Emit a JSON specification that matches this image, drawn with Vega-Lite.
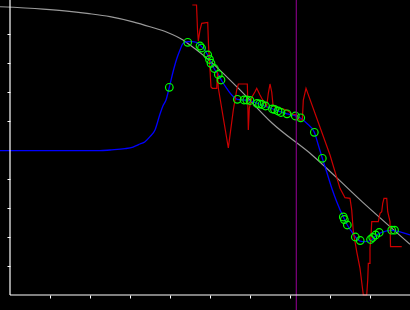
{
  "$schema": "https://vega.github.io/schema/vega-lite/v6.json",
  "width": 410,
  "height": 310,
  "padding": 0,
  "autosize": {"type": "none"},
  "background": "black",
  "config": {"view": {"stroke": null}},
  "datasets": {
    "grey": [
      {"u": -0.25, "v": 9.94}, {"u": 0.825, "v": 9.86}, {"u": 1.425, "v": 9.79}, {"u": 1.925, "v": 9.71},
      {"u": 2.5, "v": 9.6}, {"u": 3.075, "v": 9.42}, {"u": 3.5, "v": 9.25}, {"u": 3.925, "v": 9.06},
      {"u": 4.325, "v": 8.79}, {"u": 4.5, "v": 8.62}, {"u": 4.875, "v": 8.22}, {"u": 5.7, "v": 7.14},
      {"u": 6.55, "v": 5.93}, {"u": 7.55, "v": 4.83}, {"u": 8.8, "v": 3.22}, {"u": 10, "v": 1.75}
    ],
    "blue": [
      {"u": -0.25, "v": 4.976}, {"u": 2.25, "v": 4.976}, {"u": 2.5, "v": 5.0}, {"u": 2.875, "v": 5.045},
      {"u": 3.075, "v": 5.103}, {"u": 3.25, "v": 5.207}, {"u": 3.375, "v": 5.286}, {"u": 3.5, "v": 5.459},
      {"u": 3.625, "v": 5.69}, {"u": 3.75, "v": 6.241}, {"u": 3.825, "v": 6.528}, {"u": 3.9, "v": 6.724},
      {"u": 3.983, "v": 7.162}, {"u": 4.075, "v": 7.69}, {"u": 4.175, "v": 8.172}, {"u": 4.25, "v": 8.448},
      {"u": 4.325, "v": 8.672}, {"u": 4.443, "v": 8.734}, {"u": 4.575, "v": 8.734}, {"u": 4.75, "v": 8.621},
      {"u": 4.943, "v": 8.276}, {"u": 5.025, "v": 8.0}, {"u": 5.108, "v": 7.793}, {"u": 5.208, "v": 7.603},
      {"u": 5.293, "v": 7.389}, {"u": 5.418, "v": 7.128}, {"u": 5.543, "v": 6.897}, {"u": 5.683, "v": 6.748},
      {"u": 5.85, "v": 6.724}, {"u": 6.0, "v": 6.7}, {"u": 6.2, "v": 6.603}, {"u": 6.388, "v": 6.507},
      {"u": 6.575, "v": 6.414}, {"u": 6.75, "v": 6.321}, {"u": 6.925, "v": 6.248}, {"u": 7.125, "v": 6.183},
      {"u": 7.268, "v": 6.093}, {"u": 7.418, "v": 5.921}, {"u": 7.608, "v": 5.61}, {"u": 7.7, "v": 5.207},
      {"u": 7.808, "v": 4.714}, {"u": 7.918, "v": 4.241}, {"u": 8.043, "v": 3.69}, {"u": 8.168, "v": 3.217},
      {"u": 8.333, "v": 2.69}, {"u": 8.433, "v": 2.414}, {"u": 8.543, "v": 2.183}, {"u": 8.633, "v": 2.0},
      {"u": 8.75, "v": 1.862}, {"u": 8.875, "v": 1.838}, {"u": 9.043, "v": 1.897}, {"u": 9.15, "v": 2.052},
      {"u": 9.293, "v": 2.162}, {"u": 9.543, "v": 2.231}, {"u": 9.793, "v": 2.162}, {"u": 10.0, "v": 2.069}
    ],
    "red": [
      {"i": 1, "u": 4.558, "v": 10.0}, {"i": 2, "u": 4.663, "v": 10.0}, {"i": 3, "u": 4.688, "v": 9.138},
      {"i": 4, "u": 4.708, "v": 8.759}, {"i": 5, "u": 4.75, "v": 9.138}, {"i": 6, "u": 4.793, "v": 9.369},
      {"i": 7, "u": 4.943, "v": 9.397}, {"i": 8, "u": 4.963, "v": 8.621}, {"i": 9, "u": 5.025, "v": 7.172},
      {"i": 10, "u": 5.058, "v": 7.128}, {"i": 11, "u": 5.168, "v": 7.128}, {"i": 12, "u": 5.188, "v": 7.69},
      {"i": 13, "u": 5.208, "v": 7.138}, {"i": 14, "u": 5.458, "v": 5.069}, {"i": 15, "u": 5.583, "v": 6.379},
      {"i": 16, "u": 5.668, "v": 7.069}, {"i": 17, "u": 5.708, "v": 7.276}, {"i": 18, "u": 5.933, "v": 7.276},
      {"i": 19, "u": 5.943, "v": 6.724}, {"i": 20, "u": 5.958, "v": 5.69}, {"i": 21, "u": 5.983, "v": 6.448},
      {"i": 22, "u": 6.05, "v": 6.828}, {"i": 23, "u": 6.125, "v": 7.01}, {"i": 24, "u": 6.168, "v": 7.128},
      {"i": 25, "u": 6.25, "v": 6.897}, {"i": 26, "u": 6.293, "v": 6.783}, {"i": 27, "u": 6.418, "v": 6.517},
      {"i": 28, "u": 6.458, "v": 6.955}, {"i": 29, "u": 6.5, "v": 7.276}, {"i": 30, "u": 6.543, "v": 7.0},
      {"i": 31, "u": 6.575, "v": 6.552}, {"i": 32, "u": 6.625, "v": 6.483}, {"i": 33, "u": 6.75, "v": 6.448},
      {"i": 34, "u": 6.918, "v": 6.379}, {"i": 35, "u": 7.05, "v": 6.241}, {"i": 36, "u": 7.175, "v": 6.207},
      {"i": 37, "u": 7.233, "v": 6.034}, {"i": 38, "u": 7.308, "v": 6.034}, {"i": 39, "u": 7.333, "v": 6.724},
      {"i": 40, "u": 7.4, "v": 7.128}, {"i": 41, "u": 8.0, "v": 4.828}, {"i": 42, "u": 8.25, "v": 3.679},
      {"i": 43, "u": 8.375, "v": 3.355}, {"i": 44, "u": 8.5, "v": 3.334}, {"i": 45, "u": 8.543, "v": 2.931},
      {"i": 46, "u": 8.583, "v": 2.183}, {"i": 47, "u": 8.668, "v": 1.493}, {"i": 48, "u": 8.75, "v": 0.921},
      {"i": 49, "u": 8.833, "v": 0.0}, {"i": 50, "u": 8.918, "v": 0.0}, {"i": 51, "u": 8.943, "v": 0.517},
      {"i": 52, "u": 8.958, "v": 1.093}, {"i": 53, "u": 9.0, "v": 1.093}, {"i": 54, "u": 9.0, "v": 1.621},
      {"i": 55, "u": 9.025, "v": 2.01}, {"i": 56, "u": 9.043, "v": 2.528}, {"i": 57, "u": 9.208, "v": 2.528},
      {"i": 58, "u": 9.25, "v": 2.817}, {"i": 59, "u": 9.293, "v": 2.872}, {"i": 60, "u": 9.318, "v": 3.162},
      {"i": 61, "u": 9.35, "v": 3.334}, {"i": 62, "u": 9.418, "v": 3.334}, {"i": 63, "u": 9.443, "v": 2.872},
      {"i": 64, "u": 9.5, "v": 2.528}, {"i": 65, "u": 9.513, "v": 1.666}, {"i": 66, "u": 9.793, "v": 1.666}
    ],
    "pts": [
      {"u": 3.983, "v": 7.162}, {"u": 4.443, "v": 8.714}, {"u": 4.75, "v": 8.586}, {"u": 4.788, "v": 8.517},
      {"u": 4.943, "v": 8.276}, {"u": 4.988, "v": 8.121}, {"u": 5.025, "v": 7.99}, {"u": 5.108, "v": 7.81},
      {"u": 5.208, "v": 7.603}, {"u": 5.275, "v": 7.414}, {"u": 5.683, "v": 6.748}, {"u": 5.85, "v": 6.724},
      {"u": 5.918, "v": 6.724}, {"u": 6.0, "v": 6.707}, {"u": 6.175, "v": 6.603}, {"u": 6.238, "v": 6.586},
      {"u": 6.3, "v": 6.569}, {"u": 6.388, "v": 6.517}, {"u": 6.563, "v": 6.414}, {"u": 6.613, "v": 6.397},
      {"u": 6.7, "v": 6.345}, {"u": 6.775, "v": 6.293}, {"u": 6.925, "v": 6.248}, {"u": 7.133, "v": 6.172},
      {"u": 7.268, "v": 6.11}, {"u": 7.608, "v": 5.61}, {"u": 7.808, "v": 4.714}, {"u": 8.333, "v": 2.69},
      {"u": 8.358, "v": 2.603}, {"u": 8.433, "v": 2.414}, {"u": 8.633, "v": 2.0}, {"u": 8.755, "v": 1.879},
      {"u": 9.013, "v": 1.914}, {"u": 9.068, "v": 1.983}, {"u": 9.143, "v": 2.069}, {"u": 9.23, "v": 2.155},
      {"u": 9.543, "v": 2.234}, {"u": 9.613, "v": 2.234}
    ],
    "vline": [{"u": 7.158}],
    "yaxis": [{"u": 0, "v": 0, "v2": 10.2}],
    "xaxis": [{"u": 0, "u2": 10, "v": 0}]
  },
  "encoding": {
    "x": {"field": "u", "type": "quantitative", "scale": {"domain": [-0.25, 10], "nice": false, "zero": false},
      "axis": {"values": [1, 2, 3, 4, 5, 6, 7, 8, 9], "domain": false, "labels": false, "grid": false, "title": null, "ticks": true, "tickSize": 3, "tickColor": "white", "tickWidth": 1, "offset": -15}},
    "y": {"field": "v", "type": "quantitative", "scale": {"domain": [-0.517, 10.172], "nice": false, "zero": false},
      "axis": {"values": [1, 2, 3, 4, 5, 6, 7, 8, 9], "domain": false, "labels": false, "grid": false, "title": null, "ticks": true, "tickSize": 3, "tickColor": "white", "tickWidth": 1, "offset": -10}}
  },
  "layer": [
    {"data": {"name": "grey"}, "mark": {"type": "line", "color": "#9a9a9a", "strokeWidth": 1.2, "interpolate": "monotone"}},
    {"data": {"name": "blue"}, "mark": {"type": "line", "color": "#0000ff", "strokeWidth": 1.3, "interpolate": "monotone"}},
    {"data": {"name": "red"}, "mark": {"type": "line", "color": "#cc0000", "strokeWidth": 1.2, "clip": true},
      "encoding": {"order": {"field": "i", "type": "quantitative"}}},
    {"data": {"name": "pts"}, "mark": {"type": "point", "shape": "circle", "color": "#00ff00", "filled": false, "size": 58, "strokeWidth": 1.2, "opacity": 1}},
    {"data": {"name": "vline"}, "mark": {"type": "rule", "color": "#800080", "strokeWidth": 1.2}, "encoding": {"y": null}},
    {"data": {"name": "yaxis"}, "mark": {"type": "rule", "color": "white", "strokeWidth": 1.2},
      "encoding": {"y2": {"field": "v2"}}},
    {"data": {"name": "xaxis"}, "mark": {"type": "rule", "color": "white", "strokeWidth": 1.2},
      "encoding": {"x2": {"field": "u2"}}}
  ]
}
